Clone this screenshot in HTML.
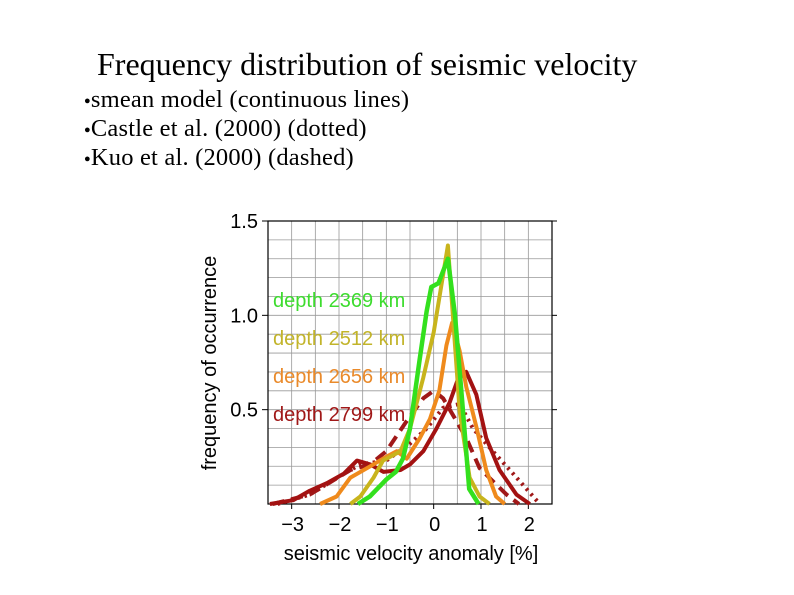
<!DOCTYPE html>
<html><head><meta charset="utf-8"><style>
body{margin:0;background:#fff;width:794px;height:595px;overflow:hidden;position:relative;font-family:"Liberation Serif",serif}
.t{position:absolute;white-space:nowrap;color:#000}
.b{font-size:11px;vertical-align:3px}
</style></head><body>
<div class="t" style="left:97px;top:46px;font-size:32px">Frequency distribution of seismic velocity</div>
<div class="t" style="left:84px;top:86px;font-size:24.5px;letter-spacing:0.2px"><span class="b">●</span>smean model (continuous lines)</div>
<div class="t" style="left:84px;top:115px;font-size:24.5px;letter-spacing:0.2px"><span class="b">●</span>Castle et al. (2000) (dotted)</div>
<div class="t" style="left:84px;top:144px;font-size:24.5px;letter-spacing:0.2px"><span class="b">●</span>Kuo et al. (2000) (dashed)</div>
<svg id="chart" width="794" height="595" style="position:absolute;left:0;top:0" font-family="Liberation Sans, sans-serif"></svg>
<script>
const xTicks=[-3,-2,-1,0,1,2];
const yTicks=[0.5,1.0,1.5];
const seriesNames=["depth 2369 km","depth 2512 km","depth 2656 km","depth 2799 km"];
const greenX=[-1.6,-1.35,-1.0,-0.8,-0.65,-0.5,-0.3,-0.15,-0.05,0.1,0.3,0.45,0.6,0.75,0.95];
const greenY=[0,0.04,0.13,0.17,0.24,0.4,0.76,1.02,1.15,1.17,1.3,1.0,0.55,0.08,0];
const oliveX=[-1.76,-1.55,-1.27,-1.07,-0.7,-0.5,-0.22,0,0.17,0.3,0.4,0.55,0.76,0.97,1.18];
const oliveY=[0,0.04,0.14,0.23,0.28,0.4,0.67,0.91,1.17,1.37,1.02,0.49,0.14,0.04,0];
const orangeX=[-2.4,-2.05,-1.76,-1.34,-1.0,-0.78,-0.57,-0.29,-0.08,0.12,0.27,0.39,0.55,0.69,0.9,1.11,1.32,1.5];
const orangeY=[0,0.04,0.14,0.2,0.25,0.28,0.24,0.35,0.45,0.6,0.84,0.96,0.81,0.62,0.41,0.18,0.04,0];
const redX=[-3.46,-2.97,-2.62,-2.26,-1.9,-1.62,-1.34,-1.06,-0.7,-0.5,-0.22,0.06,0.34,0.51,0.69,0.9,1.11,1.39,1.75,2.03];
const redY=[0,0.02,0.07,0.11,0.16,0.23,0.21,0.17,0.18,0.21,0.28,0.4,0.54,0.66,0.7,0.58,0.35,0.18,0.05,0];
const castleX=[-3.3,-2.62,-1.9,-1.55,-1.0,-0.5,-0.15,0.2,0.55,0.83,1.25,1.68,2.24];
const castleY=[0,0.05,0.16,0.21,0.23,0.32,0.4,0.51,0.53,0.4,0.28,0.16,0];
const kuoX=[-3.4,-2.62,-1.76,-1.34,-1.0,-0.57,-0.22,0,0.2,0.41,0.69,0.97,1.54,1.8];
const kuoY=[0,0.05,0.18,0.21,0.28,0.44,0.56,0.6,0.56,0.47,0.35,0.19,0.05,0];

const svg=document.getElementById('chart');
const NS='http://www.w3.org/2000/svg';
const L=268,R=552,T=221,B=504,X0=-3.5,X1=2.5,Y1=1.5;
const sx=v=>L+(v-X0)/(X1-X0)*(R-L);
const sy=v=>B-v/Y1*(B-T);
function mk(tag,attrs){const e=document.createElementNS(NS,tag);for(const k in attrs)e.setAttribute(k,attrs[k]);svg.appendChild(e);return e;}
for(let v=-3.5;v<=2.5001;v+=0.5){const g=mk('line',{x1:sx(v),x2:sx(v),y1:T,y2:B,stroke:'#999','stroke-width':0.8});

}
for(let v=0.1;v<1.5;v+=0.1){const g=mk('line',{x1:L,x2:R,y1:sy(v),y2:sy(v),stroke:'#999','stroke-width':0.8});

}
const fr=mk('rect',{x:L,y:T,width:R-L,height:B-T,fill:'none',stroke:'#000','stroke-width':1.2});


xTicks.forEach(v=>{const tk=mk('line',{x1:sx(v),x2:sx(v),y1:B,y2:B+5,stroke:'#000'});


const t=mk('text',{x:sx(v)+1,y:531,'font-size':20,'text-anchor':'middle'});t.textContent=(v<0?'\u2212'+(-v):v);

});
yTicks.forEach(v=>{const tk=mk('line',{x1:L-6,x2:L,y1:sy(v),y2:sy(v),stroke:'#000'});


const tk2=mk('line',{x1:R,x2:R+5,y1:sy(v),y2:sy(v),stroke:'#000'});


const t=mk('text',{x:L-10,y:sy(v)+7,'font-size':20,'text-anchor':'end'});t.textContent=v.toFixed(1);

});
const xt=mk('text',{x:411,y:560,'font-size':20,'text-anchor':'middle'});xt.textContent='seismic velocity anomaly [%]';


const yt=mk('text',{x:216,y:363,'font-size':20,'text-anchor':'middle',transform:'rotate(-90 216 363)'});yt.textContent='frequency of occurrence';


function line(xs,ys,color,w,dash,name){const d=xs.map((x,i)=>(i?'L':'M')+sx(x).toFixed(1)+','+sy(ys[i]).toFixed(1)).join('');
const p=mk('path',{d:d,fill:'none',stroke:color,'stroke-width':w,'stroke-linejoin':'round','stroke-dasharray':dash||'none'});

}
line(castleX,castleY,'#a01818',4,'2.5 4.5','castle-dotted-line');
line(kuoX,kuoY,'#a01818',4,'12 7','kuo-dashed-line');
line(redX,redY,'#a31212',4,null,'line-2799');
line(orangeX,orangeY,'#ef8a1c',4,null,'line-2656');
line(oliveX,oliveY,'#c8b41c',4,null,'line-2512');
line(greenX,greenY,'#33e01e',4.5,null,'line-2369');
const cols=['#3ddc2e','#c2b42a','#ea8a2a','#a01818'];
seriesNames.forEach((n,i)=>{const t=mk('text',{x:273,y:307+i*38,'font-size':20,fill:cols[i]});t.textContent=n;

});
</script>
</body></html>
